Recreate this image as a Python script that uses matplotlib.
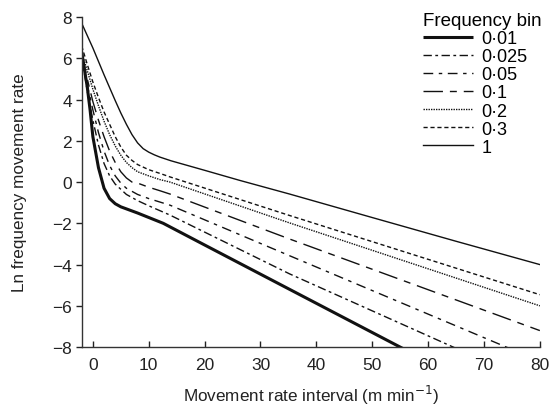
import matplotlib
matplotlib.use("Agg")
import matplotlib.pyplot as plt

plt.rcParams['font.family'] = ['Liberation Sans', 'DejaVu Sans']

# Frequency bin labels
bins = ["0·01", "0·025", "0·05", "0·1", "0·2", "0·3", "1"]

# Curves: (x, ln frequency)
x_001 = [-2, -1, -0.5, 0, 1, 2, 3, 4, 5, 8, 12.6, 20, 35.2, 55, 56]
y_001 = [6.3, 4.6, 3.5, 2.2, 0.7, -0.3, -0.8, -1.05, -1.2, -1.5, -2.0, -3.05, -5.2, -8.0, -8.14]

x_0025 = [-2, -1, 0, 1, 2, 3, 4, 5, 6, 8, 10, 13.8, 35.2, 64.5, 65.5]
y_0025 = [6.1, 4.4, 3.0, 1.8, 0.9, 0.3, -0.1, -0.35, -0.6, -0.9, -1.15, -1.6, -4.45, -8.0, -8.12]

x_005 = [-2, -1, 0, 1, 2, 3, 4, 5, 6, 8, 10, 13.8, 35.2, 74, 75]
y_005 = [6.0, 4.7, 3.5, 2.4, 1.5, 0.8, 0.3, -0.05, -0.3, -0.6, -0.8, -1.12, -3.57, -8.0, -8.11]

x_01 = [-2, -1, 0, 1, 2, 3, 4, 5, 6, 7, 8, 10, 12, 13.8, 35.2, 80]
y_01 = [6.2, 5.0, 3.9, 3.0, 2.2, 1.5, 0.95, 0.5, 0.2, 0.0, -0.05, -0.25, -0.42, -0.58, -2.76, -7.2]

x_02 = [-2, -1, 0, 1, 2, 3, 4, 5, 6, 7, 8, 10, 12, 13.8, 35.2, 80]
y_02 = [6.3, 5.4, 4.5, 3.7, 2.95, 2.3, 1.75, 1.3, 0.95, 0.7, 0.5, 0.3, 0.12, 0.0, -1.98, -6.0]

x_03 = [-2, -1, 0, 1, 2, 3, 4, 5, 6, 7, 8, 10, 12, 13.8, 35.2, 80]
y_03 = [6.6, 5.7, 4.85, 4.1, 3.4, 2.8, 2.2, 1.7, 1.3, 1.05, 0.85, 0.6, 0.42, 0.25, -1.62, -5.46]

x_1 = [-2, 0, 2, 4, 5, 6, 7, 8, 9, 10, 11, 12, 14, 20, 26.3, 35.2, 50, 65, 80]
y_1 = [7.7, 6.5, 5.2, 3.95, 3.35, 2.8, 2.3, 1.9, 1.62, 1.45, 1.32, 1.21, 1.03, 0.57, 0.08, -0.58, -1.72, -2.87, -4.0]

x_ticks = [0, 10, 20, 30, 40, 50, 60, 70, 80]
y_ticks = [-8, -6, -4, -2, 0, 2, 4, 6, 8]

fig = plt.figure(figsize=(5.52, 4.10), dpi=100)
ax = fig.add_axes([0.148, 0.151, 0.830, 0.805])

k = '#111111'
ax.plot(x_001, y_001, color=k, lw=2.2, solid_capstyle='butt', label=bins[0])
ax.plot(x_0025, y_0025, color=k, lw=1.0, dashes=(6, 2.5, 2, 2.5), label=bins[1])
ax.plot(x_005, y_005, color=k, lw=1.0, dashes=(7, 4, 2.5, 4), label=bins[2])
ax.plot(x_01, y_01, color=k, lw=1.0, dashes=(14, 5, 5, 5), label=bins[3])
ax.plot(x_02, y_02, color=k, lw=1.0, dashes=(1, 0.8), label=bins[4])
ax.plot(x_03, y_03, color=k, lw=1.0, dashes=(3, 2), label=bins[5])
ax.plot(x_1, y_1, color=k, lw=1.0, label=bins[6])

ax.set_xlim(-2, 80)
ax.set_ylim(-8, 8)
ax.set_xticks(x_ticks)
ax.set_yticks(y_ticks)
ax.spines['top'].set_visible(False)
ax.spines['right'].set_visible(False)
for s in ['left', 'bottom']:
    ax.spines[s].set_linewidth(1.0)
    ax.spines[s].set_color('#333333')
ax.tick_params(axis='x', direction='in', length=4, width=1, labelsize=12.5, pad=7, colors='#222222')
ax.tick_params(axis='y', direction='out', length=4, width=1, labelsize=12.5, pad=3, colors='#222222')

ax.set_xlabel('Movement rate interval (m min$^{-1}$)', fontsize=12.3, labelpad=8, color='#222222')
ax.set_ylabel('Ln frequency movement rate', fontsize=12.3, labelpad=18, color='#222222')

leg = ax.legend(loc='upper left', bbox_to_anchor=(0.766, 0.968), bbox_transform=fig.transFigure,
                frameon=False, fontsize=13, title='Frequency bin', title_fontsize=13.5,
                handlelength=2.8, handletextpad=0.45, labelspacing=0.06, borderpad=0,
                borderaxespad=0, alignment='left')

fig.savefig('out.png', dpi=100)
